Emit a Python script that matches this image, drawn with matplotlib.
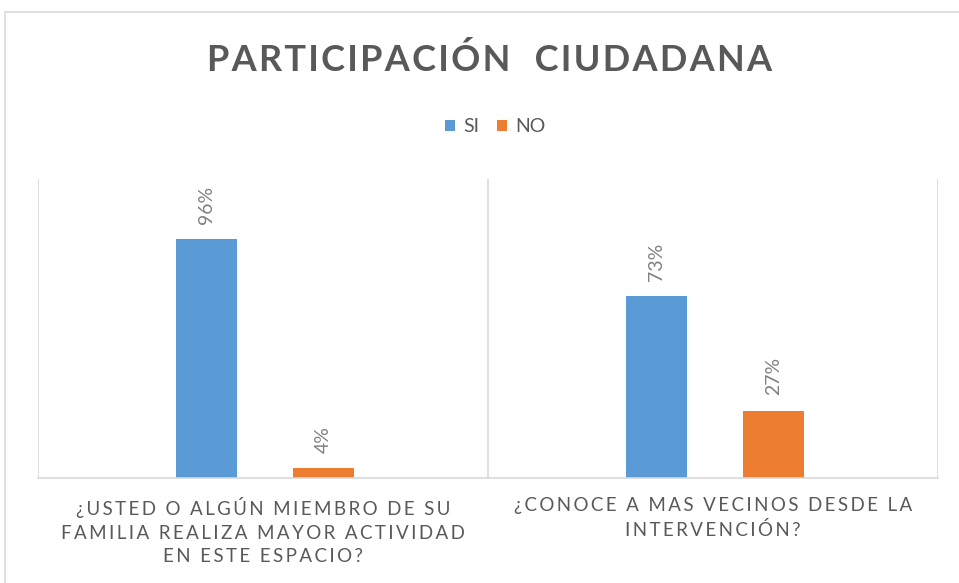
import matplotlib.pyplot as plt
from matplotlib.patches import Rectangle
import numpy as np

categories = ["¿USTED O ALGÚN MIEMBRO DE SU\nFAMILIA REALIZA MAYOR ACTIVIDAD\nEN ESTE ESPACIO?",
              "¿CONOCE A MAS VECINOS DESDE LA\nINTERVENCIÓN?"]
si_values = [0.96, 0.73]
no_values = [0.04, 0.27]
series_names = ["SI", "NO"]

FONT = ["Lato", "DejaVu Sans"]
GRAY = "#595959"
GRID = "#d9d9d9"


def spaced(s, sep="\u2009"):
    # emulate Excel's expanded character spacing
    return "\n".join(sep.join(line) for line in s.split("\n"))


fig = plt.figure(figsize=(9.59, 5.83), dpi=100)
fig.patches.append(Rectangle((5 / 959, -0.1), 1.1, 1 - 12 / 583 + 0.1,
                             transform=fig.transFigure, fill=False,
                             edgecolor=GRID, linewidth=1.2))

ax = fig.add_axes([38 / 959, 1 - 478 / 583, 900 / 959, 299 / 583])
x = np.arange(len(categories))
w = 0.136
b1 = ax.bar(x - 0.126, si_values, w, color="#5B9BD5", label=series_names[0])
b2 = ax.bar(x + 0.134, no_values, w, color="#ED7D31", label=series_names[1])

for bars, vals in [(b1, si_values), (b2, no_values)]:
    for bar, v in zip(bars, vals):
        ax.annotate(f"{v:.0%}", (bar.get_x() + bar.get_width() / 2, v),
                    xytext=(0, 11), textcoords="offset points",
                    rotation=90, ha="center", va="bottom",
                    fontsize=14, color="#808080", family=FONT)

ax.set_xlim(-0.5, 1.5)
ax.set_ylim(0, 1.2)
for b in [-0.5, 0.5, 1.5]:
    ax.axvline(b, color=GRID, linewidth=1.2)
for s in ["top", "left", "right"]:
    ax.spines[s].set_visible(False)
ax.spines["bottom"].set_color(GRID)
ax.spines["bottom"].set_linewidth(1.2)
ax.set_yticks([])
ax.set_xticks(x)
ax.set_xticklabels([spaced(c) for c in categories], fontsize=13.5,
                   color=GRAY, family=FONT, linespacing=1.45)
ax.tick_params(axis="x", length=0, pad=14)

fig.text(490 / 959, 1 - 60 / 583, spaced("PARTICIPACIÓN  CIUDADANA", "\u200a"),
         ha="center", va="center", fontsize=26, fontweight="bold",
         color=GRAY, family=FONT)

fig.legend(handles=[b1, b2], labels=series_names, loc="center",
           bbox_to_anchor=(495 / 959, 1 - 127 / 583), ncol=2, frameon=False,
           handlelength=0.55, handleheight=0.55, handletextpad=0.4,
           columnspacing=0.9, prop={"family": FONT, "size": 14},
           labelcolor=GRAY)

fig.savefig("out.png", dpi=100)
